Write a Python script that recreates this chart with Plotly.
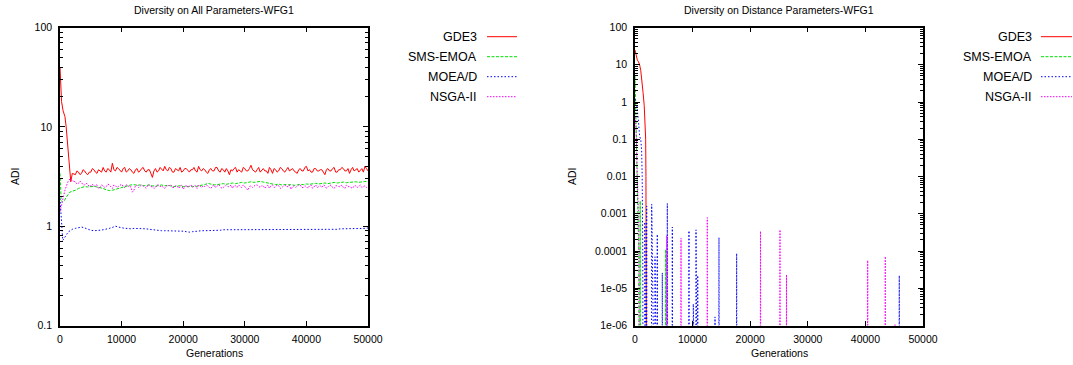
import plotly.graph_objects as go

# ---------------- data: left panel (Diversity on All Parameters) ----------------
late_gens = list(range(2500, 50001, 500))        # sampling for smoother series
late_gens_fine = list(range(2500, 50001, 250))   # sampling for noisier series

gde3_all_early_gen = [0, 100, 250, 500, 800, 1000, 1200, 1400, 1600, 1750, 2000]
gde3_all_early_val = [40, 28, 18, 14.5, 12.7, 10, 7, 4.8, 3.4, 2.8, 3.4]
gde3_all_late = [
    3.3, 3.6, 3.5, 3.3, 3.4, 3.7, 3.6, 3.4, 3.3, 3.5, 3.5, 3.8, 3.7, 3.5, 3.4, 3.7, 3.6, 3.5, 3.9, 3.6,
    3.5, 3.8, 3.7, 3.5, 4.3, 3.7, 3.6, 3.9, 3.8, 3.6, 3.5, 3.8, 3.9, 3.5, 3.6, 3.8, 3.7, 3.5, 3.4, 3.7,
    3.8, 3.5, 3.6, 3.8, 3.9, 3.6, 3.5, 3.7, 3.7, 3.4, 3.1, 3.6, 3.8, 3.5, 3.6, 3.9, 3.7, 3.6, 4.0, 3.7,
    3.6, 3.9, 3.8, 3.5, 3.5, 3.8, 3.7, 3.6, 3.9, 3.5, 3.6, 3.8, 3.8, 3.6, 3.5, 3.7, 3.7, 3.9, 3.6, 3.5,
    4.0, 3.7, 3.6, 3.8, 3.7, 3.5, 3.4, 3.7, 3.8, 3.6, 3.6, 3.9, 3.9, 3.6, 3.5, 3.8, 3.7, 3.5, 3.8, 3.6,
    3.3, 3.7, 3.6, 3.8, 3.9, 3.5, 3.7, 3.6, 3.5, 3.9, 3.8, 3.6, 3.6, 3.8, 4.1, 3.7, 3.6, 3.5, 3.7, 3.9,
    3.5, 3.7, 3.8, 3.6, 3.6, 3.4, 3.9, 3.7, 3.4, 3.8, 3.7, 3.5, 3.6, 3.9, 3.8, 3.6, 3.5, 3.7, 3.9, 3.6,
    3.7, 3.8, 3.6, 3.5, 3.4, 3.7, 3.8, 3.6, 3.6, 3.9, 4.0, 3.6, 3.7, 3.5, 3.5, 3.8, 3.8, 3.6, 3.6, 3.7,
    3.7, 3.5, 3.3, 3.7, 3.8, 3.6, 3.6, 3.8, 3.9, 3.5, 3.5, 3.7, 3.7, 3.9, 3.8, 3.6, 3.6, 3.8, 3.4, 3.7,
    3.9, 3.6, 3.7, 3.8, 3.5, 3.7, 3.8, 3.5, 4.0, 3.8, 3.6]

sms_all_early_gen = [0, 100, 200, 400, 700, 1000, 1300, 1600, 2000]
sms_all_early_val = [3.4, 2.2, 1.8, 1.75, 1.8, 1.95, 2.1, 2.2, 2.25]
sms_all_late = [
    2.3, 2.4, 2.45, 2.5, 2.48, 2.5, 2.52, 2.48, 2.45, 2.4,
    2.32, 2.28, 2.3, 2.35, 2.4, 2.45, 2.5, 2.55, 2.6, 2.62,
    2.58, 2.6, 2.55, 2.57, 2.6, 2.55, 2.52, 2.56, 2.6, 2.55,
    2.58, 2.54, 2.5, 2.53, 2.55, 2.5, 2.48, 2.5, 2.52, 2.5,
    2.55, 2.58, 2.62, 2.7, 2.65, 2.6, 2.62, 2.66, 2.68, 2.64,
    2.7, 2.72, 2.68, 2.74, 2.76, 2.72, 2.78, 2.8, 2.76, 2.8,
    2.82, 2.78, 2.74, 2.7, 2.66, 2.62, 2.65, 2.6, 2.63, 2.6,
    2.62, 2.58, 2.6, 2.64, 2.62, 2.66, 2.64, 2.68, 2.7, 2.66,
    2.7, 2.72, 2.68, 2.74, 2.76, 2.72, 2.75, 2.78, 2.74, 2.76,
    2.78, 2.8, 2.76, 2.8, 2.82, 2.8]

moead_all_early_gen = [0, 150, 300, 450, 600, 800, 1100, 1400, 1700, 2000]
moead_all_early_val = [1.9, 1.3, 0.9, 0.72, 0.74, 0.78, 0.83, 0.88, 0.91, 0.93]
moead_all_late = [
    0.95, 0.97, 0.98, 0.96, 0.93, 0.91, 0.9, 0.9, 0.91, 0.92,
    0.93, 0.95, 0.97, 1.0, 0.98, 0.96, 0.95, 0.95, 0.94, 0.95,
    0.95, 0.94, 0.95, 0.94, 0.93, 0.92, 0.91, 0.9, 0.9, 0.9,
    0.9, 0.9, 0.89, 0.9, 0.9, 0.89, 0.88, 0.87, 0.88, 0.89,
    0.89, 0.9, 0.9, 0.9, 0.91, 0.91, 0.91, 0.91, 0.92, 0.92,
    0.92, 0.92, 0.92, 0.92, 0.92, 0.92, 0.92, 0.92, 0.92, 0.92,
    0.92, 0.92, 0.92, 0.92, 0.92, 0.92, 0.92, 0.92, 0.92, 0.92,
    0.92, 0.92, 0.92, 0.92, 0.92, 0.92, 0.92, 0.93, 0.93, 0.93,
    0.93, 0.93, 0.93, 0.93, 0.93, 0.93, 0.94, 0.94, 0.94, 0.94,
    0.94, 0.95, 0.95, 0.95, 0.95, 0.96]

nsga_all_early_gen = [0, 200, 500, 800, 1100, 1400, 1700, 2000]
nsga_all_early_val = [1.4, 1.6, 1.9, 2.3, 2.6, 2.9, 3.0, 2.85]
nsga_all_late = [
    2.8, 2.65, 2.7, 2.85, 2.75, 2.6, 2.6, 2.7, 2.65, 2.5, 2.55, 2.65, 2.5, 2.6, 2.6, 2.4, 2.45, 2.6, 2.55, 2.45,
    2.5, 2.65, 2.6, 2.5, 2.4, 2.6, 2.55, 2.45, 2.5, 2.6, 2.65, 2.5, 2.45, 2.6, 2.6, 2.45, 2.5, 2.2, 2.3, 2.55,
    2.6, 2.45, 2.5, 2.6, 2.55, 2.45, 2.4, 2.6, 2.6, 2.5, 2.5, 2.4, 2.45, 2.6, 2.6, 2.5, 2.55, 2.45, 2.4, 2.55,
    2.5, 2.6, 2.6, 2.45, 2.45, 2.55, 2.55, 2.4, 2.5, 2.6, 2.35, 2.5, 2.6, 2.45, 2.5, 2.6, 2.45, 2.55, 2.55, 2.4,
    2.6, 2.5, 2.45, 2.55, 2.5, 2.6, 2.55, 2.45, 2.4, 2.55, 2.6, 2.45, 2.5, 2.6, 2.55, 2.4, 2.45, 2.55, 2.6, 2.5,
    2.5, 2.6, 2.4, 2.55, 2.55, 2.45, 2.6, 2.5, 2.45, 2.6, 2.5, 2.4, 2.3, 2.5, 2.55, 2.45, 2.5, 2.6, 2.6, 2.5,
    2.45, 2.55, 2.55, 2.4, 2.5, 2.6, 2.4, 2.55, 2.6, 2.45, 2.5, 2.6, 2.55, 2.4, 2.45, 2.55, 2.6, 2.5, 2.5, 2.6,
    2.35, 2.5, 2.55, 2.45, 2.5, 2.6, 2.6, 2.45, 2.45, 2.55, 2.5, 2.4, 2.55, 2.6, 2.4, 2.5, 2.6, 2.45, 2.5, 2.55,
    2.45, 2.6, 2.55, 2.4, 2.5, 2.55, 2.6, 2.45, 2.4, 2.55, 2.55, 2.5, 2.5, 2.6, 2.45, 2.4, 2.6, 2.5, 2.5, 2.45,
    2.4, 2.55, 2.55, 2.45, 2.5, 2.6, 2.45, 2.5, 2.55, 2.45, 2.5]

# ---------------- data: right panel (Diversity on Distance Parameters) ----------------
ZERO = 1e-9  # value shown as "0" (below the log axis floor)

gde3_dist_gen = [0, 200, 400, 600, 800, 1000, 1200, 1400, 1600, 1750, 1850, 1900, 1950, 2000]
gde3_dist_val = [25, 17, 13.5, 12, 10, 7, 4, 1.8, 0.8, 0.3, 0.1, 0.01, 1e-4, ZERO]

sms_dist_gen = [0, 80, 160, 250, 350, 450, 550, 650, 700]
sms_dist_val = [5, 2, 0.5, 0.1, 0.01, 0.003, 0.001, 1e-4, ZERO]
sms_spike_gen = [900, 5330]
sms_spike_val = [0.0022, 1.1e-4]

moead_dist_gen = [0, 300, 600, 800, 1000, 1150, 1250, 1300, 1350, 1400]
moead_dist_val = [1.2, 0.9, 0.3, 0.12, 0.1, 0.05, 0.01, 0.001, 1e-4, ZERO]
moead_spike_gen = [1700, 2030, 2900, 3470, 3870, 4740, 5610, 6480, 9370, 10120,
                   10590, 10890, 13890, 14580, 17650, 45880]
moead_spike_val = [6e-4, 1.6e-3, 1.8e-3, 7e-5, 2.8e-4, 2.6e-5, 1.9e-3, 4.4e-4, 3.5e-4, 3.8e-6,
                   3.7e-4, 2.2e-5, 1.7e-6, 2.3e-4, 8.6e-5, 2.2e-5]

nsga_dist_gen = [0, 100, 200, 300, 400, 500, 600, 700, 800]
nsga_dist_val = [0.4, 0.3, 0.15, 0.05, 0.01, 0.002, 0.001, 1e-4, ZERO]
nsga_spike_gen = [5500, 7990, 12550, 21790, 25170, 26300, 40400, 43450, 45140]
nsga_spike_val = [2.6e-4, 2.2e-4, 7.9e-4, 3.4e-4, 3.7e-4, 2.3e-5, 5.6e-5, 7.1e-5, 1.1e-6]

x_ticks = [0, 10000, 20000, 30000, 40000, 50000]
y_ticks_all = [0.1, 1, 10, 100]
y_ticks_dist = [1e-6, 1e-5, 1e-4, 1e-3, 0.01, 0.1, 1, 10, 100]
y_ticktext_dist = ["1e-06", "1e-05", "0.0001", "0.001", "0.01", "0.1", "1", "10", "100"]

names = ["GDE3", "SMS-EMOA", "MOEA/D", "NSGA-II"]
colors = ["#ff0000", "#00e000", "#0000ff", "#ff00ff"]
dashes = ["solid", "3px,1.5px", "1.5px,2px", "1.5px,1.5px"]

# ---------------- figure ----------------
W, H = 1073, 365
def px(x): return x / W
def py(y): return 1 - y / H

FONT = "Liberation Sans, Arial, Helvetica, sans-serif"

def with_spikes(g0, v0, sg, sv, half=60):
    gx, gy = list(g0), list(v0)
    for g, v in zip(sg, sv):
        gx += [g - half, g, g + half]
        gy += [ZERO, v, ZERO]
    return gx, gy

fig = go.Figure()

left_series = [
    (gde3_all_early_gen + late_gens_fine, gde3_all_early_val + gde3_all_late),
    (sms_all_early_gen + late_gens, sms_all_early_val + sms_all_late),
    (moead_all_early_gen + late_gens, moead_all_early_val + moead_all_late),
    (nsga_all_early_gen + late_gens_fine, nsga_all_early_val + nsga_all_late),
]
for (gx, gy), n, c, d in zip(left_series, names, colors, dashes):
    fig.add_trace(go.Scatter(x=gx, y=gy, mode="lines", name=n, showlegend=False,
                             line=dict(color=c, width=1, dash=d), xaxis="x", yaxis="y"))

right_series = [
    (gde3_dist_gen, gde3_dist_val),
    with_spikes(sms_dist_gen, sms_dist_val, sms_spike_gen, sms_spike_val),
    with_spikes(moead_dist_gen, moead_dist_val, moead_spike_gen, moead_spike_val),
    with_spikes(nsga_dist_gen, nsga_dist_val, nsga_spike_gen, nsga_spike_val),
]
for (gx, gy), n, c, d in zip(right_series, names, colors, dashes):
    fig.add_trace(go.Scatter(x=gx, y=gy, mode="lines", name=n, showlegend=False,
                             line=dict(color=c, width=1, dash=d), xaxis="x2", yaxis="y2"))

def minor_vals(lo_exp, hi_exp):
    out = []
    for e in range(lo_exp, hi_exp):
        for k in range(2, 10):
            out.append(k * 10 ** e)
    return out

axis_common = dict(showline=True, linecolor="black", linewidth=1.5, mirror="allticks",
                   ticks="inside", ticklen=5, tickwidth=1, tickcolor="black",
                   showgrid=False, zeroline=False, automargin=False,
                   tickfont=dict(family=FONT, size=10.5, color="black"))

fig.update_layout(
    width=W, height=H, margin=dict(l=0, r=0, t=0, b=0),
    paper_bgcolor="white", plot_bgcolor="white", showlegend=False,
    xaxis=dict(domain=[px(60), px(368)], range=[0, 50000], tickmode="array",
               tickvals=x_ticks, ticktext=[str(v) for v in x_ticks], anchor="y",
               ticklabelstandoff=3, **axis_common),
    yaxis=dict(domain=[py(325.5), py(27.5)], type="log", range=[-1, 2], tickmode="array",
               tickvals=y_ticks_all, ticktext=["0.1", "1", "10", "100"], anchor="x",
               ticklabelstandoff=4,
               minor=dict(tickmode="array", tickvals=minor_vals(-1, 2), ticklen=3,
                          ticks="inside", tickcolor="black", tickwidth=1),
               **axis_common),
    xaxis2=dict(domain=[px(635), px(923)], range=[0, 50000], tickmode="array",
                tickvals=x_ticks, ticktext=[str(v) for v in x_ticks], anchor="y2",
                ticklabelstandoff=3, **axis_common),
    yaxis2=dict(domain=[py(325.5), py(27.5)], type="log", range=[-6, 2], tickmode="array",
                tickvals=y_ticks_dist, ticktext=y_ticktext_dist, anchor="x2",
                ticklabelstandoff=4,
                minor=dict(tickmode="array", tickvals=minor_vals(-6, 2), ticklen=3,
                           ticks="inside", tickcolor="black", tickwidth=1),
                **axis_common),
)

def text(x, y, s, size=10.5, xanchor="center", angle=0):
    fig.add_annotation(x=px(x), y=py(y), xref="paper", yref="paper", text=s,
                       showarrow=False, xanchor=xanchor, yanchor="middle", textangle=angle,
                       font=dict(family=FONT, size=size, color="black"))

# titles and axis labels
text(214, 10, "Diversity on All Parameters-WFG1")
text(779, 10, "Diversity on Distance Parameters-WFG1")
text(214, 353, "Generations")
text(779, 353, "Generations")
text(15, 176, "ADI", angle=-90)
text(572, 176, "ADI", angle=-90)

# legends (gnuplot style: label on the left, line sample on the right)
rows = [36.7, 56.7, 76.7, 96.7]
for lx_text, lx0, lx1 in [(479, 487, 517), (1034, 1041, 1072)]:
    for n, c, d, ry in zip(names, colors, dashes, rows):
        text(lx_text, ry, n, size=12.5, xanchor="right")
        fig.add_shape(type="line", xref="paper", yref="paper",
                      x0=px(lx0), x1=px(lx1), y0=py(ry), y1=py(ry),
                      line=dict(color=c, width=1, dash=d))

fig.write_html("out.html")
